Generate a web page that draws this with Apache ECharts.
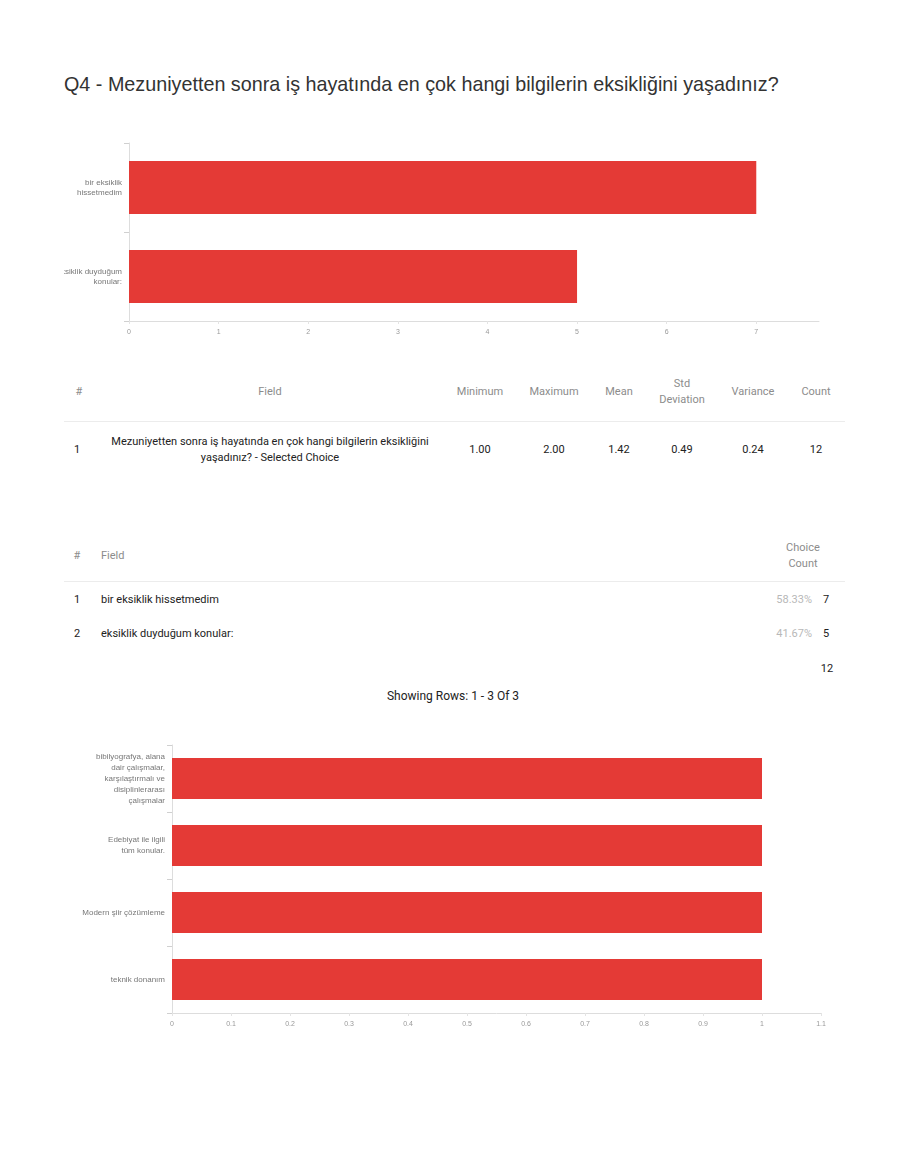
<!DOCTYPE html>
<html>
<head>
<meta charset="utf-8">
<script src="https://cdn.jsdelivr.net/npm/echarts@6/dist/echarts.min.js"></script>
<style>
  html, body { margin: 0; padding: 0; background: #fff; }
  body { width: 907px; height: 1174px; position: relative; overflow: hidden; font-family: Roboto, "Liberation Sans", sans-serif; }
  .t { position: absolute; transform: translate(-50%, -50%); white-space: nowrap; text-align: center; line-height: 16px; }
  .l { position: absolute; transform: translate(0, -50%); white-space: nowrap; line-height: 16px; }
  .r { position: absolute; transform: translate(-100%, -50%); white-space: nowrap; line-height: 16px; }
  .hd { color: #8c8c8c; font-size: 11px; }
  .dt { color: #222; font-size: 11px; }
  .pc { color: #b8b8b8; font-size: 11px; }
  .rule { position: absolute; height: 1px; background: #ececec; }
  #title { position: absolute; left: 64px; top: 72px; font-family: "Liberation Sans", Arial, sans-serif; font-size: 19.75px; color: #333; white-space: nowrap; line-height: 24px; }
  #c1 { position: absolute; left: 64px; top: 130px; width: 790px; height: 220px; }
  #c2 { position: absolute; left: 64px; top: 730px; width: 790px; height: 310px; }
</style>
</head>
<body>
<div id="title"></div>
<div id="c1"></div>
<div id="c2"></div>
<div id="tables"></div>
<script>
// ---- data ----
const titleText = "Q4 - Mezuniyetten sonra iş hayatında en çok hangi bilgilerin eksikliğini yaşadınız?";

const chart1Categories = ["bir eksiklik\nhissetmedim", "eksiklik duyduğum\nkonular:"];
const chart1Values = [7, 5];
const chart1Ticks = ["0", "1", "2", "3", "4", "5", "6", "7"];

const statsHeaders = ["#", "Field", "Minimum", "Maximum", "Mean", "Std\nDeviation", "Variance", "Count"];
const statsRow = ["1", "Mezuniyetten sonra iş hayatında en çok hangi bilgilerin eksikliğini\nyaşadınız? - Selected Choice", "1.00", "2.00", "1.42", "0.49", "0.24", "12"];

const choiceHeaders = ["#", "Field", "Choice\nCount"];
const choiceIds = ["1", "2"];
const choiceLabels = ["bir eksiklik hissetmedim", "eksiklik duyduğum konular:"];
const choicePercents = ["58.33%", "41.67%"];
const choiceCounts = ["7", "5"];
const choiceTotal = "12";
const showingRows = "Showing Rows: 1 - 3 Of 3";

const chart2Categories = [
  "bibilyografya, alana\ndair çalışmalar,\nkarşılaştırmalı ve\ndisiplinlerarası\nçalışmalar",
  "Edebiyat ile ilgili\ntüm konular.",
  "Modern şiir çözümleme",
  "teknik donanım"
];
const chart2Values = [1, 1, 1, 1];

// ---- text / tables ----
document.getElementById('title').textContent = titleText;
const tables = document.getElementById('tables');
function put(cls, x, y, text) {
  const d = document.createElement('div');
  d.className = cls;
  d.style.left = x + 'px'; d.style.top = y + 'px';
  d.innerHTML = text.split('\n').map(s => s.replace(/&/g,'&amp;').replace(/</g,'&lt;')).join('<br>');
  tables.appendChild(d);
  return d;
}
function rule(x, y, w) {
  const d = document.createElement('div');
  d.className = 'rule'; d.style.left = x + 'px'; d.style.top = y + 'px'; d.style.width = w + 'px';
  tables.appendChild(d);
}
const statsX = [79, 270, 480, 554, 619, 682, 753, 816];
statsHeaders.forEach((h, i) => put('t hd', statsX[i], 392, h));
rule(64, 421, 781);
statsRow.forEach((v, i) => put('t dt', statsX[i] - (i === 0 ? 2 : 0), 450, v));

put('t hd', 77, 556, choiceHeaders[0]);
put('l hd', 101, 556, choiceHeaders[1]);
put('t hd', 803, 556, choiceHeaders[2]);
rule(64, 581, 781);
choiceIds.forEach((id, i) => {
  const y = 600 + i * 34;
  put('t dt', 77, y, id);
  put('l dt', 101, y, choiceLabels[i]);
  put('r pc', 812, y, choicePercents[i]);
  put('t dt', 826, y, choiceCounts[i]);
});
put('t dt', 827, 669, choiceTotal);
const sr = put('t dt', 453, 696, showingRows);
sr.style.fontSize = '12px';

// ---- charts ----
const RED = '#E43A36';
const AX = '#dddddd';
const c1 = echarts.init(document.getElementById('c1'), null, { renderer: 'canvas' });
c1.setOption({
  animation: false,
  grid: { left: 65, top: 13, width: 690, height: 178, containLabel: false, outerBoundsMode: 'none' },
  xAxis: {
    type: 'value', min: 0, max: 7.7, interval: 1,
    splitLine: { show: false },
    axisLine: { show: true, lineStyle: { color: AX } },
    axisTick: { show: true, length: 3, lineStyle: { color: '#e4e4e4' } },
    axisLabel: { color: '#999', fontSize: 7, margin: 8, showMaxLabel: false,
      formatter: v => Math.abs(v - Math.round(v)) < 1e-6 && chart1Ticks[Math.round(v)] !== undefined ? chart1Ticks[Math.round(v)] : '' }
  },
  yAxis: {
    type: 'category', inverse: true, data: chart1Categories,
    axisLine: { show: true, lineStyle: { color: AX } },
    axisTick: { show: true, length: 5, lineStyle: { color: '#d0d0d0' } },
    axisLabel: { color: '#777', fontSize: 8, lineHeight: 10, margin: 7, align: 'right' }
  },
  series: [{ type: 'bar', data: chart1Values, barWidth: 53, itemStyle: { color: RED } }]
});

const c2 = echarts.init(document.getElementById('c2'), null, { renderer: 'canvas' });
c2.setOption({
  animation: false,
  grid: { left: 108, top: 15, width: 649, height: 268, containLabel: false, outerBoundsMode: 'none' },
  xAxis: {
    type: 'value', min: 0, max: 1.1, interval: 0.1,
    splitLine: { show: false },
    axisLine: { show: true, lineStyle: { color: AX } },
    axisTick: { show: true, length: 3, lineStyle: { color: '#e4e4e4' } },
    axisLabel: { color: '#999', fontSize: 7, margin: 8,
      formatter: v => String(Math.round(v * 10) / 10) }
  },
  yAxis: {
    type: 'category', inverse: true, data: chart2Categories,
    axisLine: { show: true, lineStyle: { color: AX } },
    axisTick: { show: true, length: 5, lineStyle: { color: '#d0d0d0' } },
    axisLabel: { color: '#777', fontSize: 8, lineHeight: 11, margin: 7, align: 'right' }
  },
  series: [{ type: 'bar', data: chart2Values, barWidth: 41, itemStyle: { color: RED } }]
});
</script>
</body>
</html>
